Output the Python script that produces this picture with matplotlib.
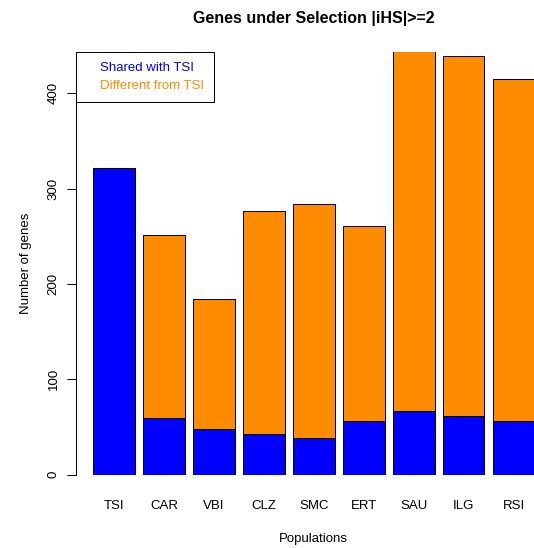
# stacked barplot of selected genes per population
import numpy as np
import matplotlib.pyplot as plt
from matplotlib.patches import Patch

plt.rcParams['font.family'] = ['Liberation Sans', 'DejaVu Sans']

# data
pops = ['TSI', 'CAR', 'VBI', 'CLZ', 'SMC', 'ERT', 'SAU', 'ILG', 'RSI']
shared = [322, 59, 48, 43, 38, 56, 67, 62, 56]          # genes shared with TSI
different = [0, 192, 136, 234, 246, 205, 377, 377, 359]  # genes not in TSI
yticks = [0, 100, 200, 300, 400]

blue = '#0000FF'
orange = '#FF8C00'
fs = 13.3  # base text size in px

# figure at 72 dpi so that sizes in points equal pixels
fig = plt.figure(figsize=(534/72, 548/72), dpi=72)
ax = fig.add_axes([75.7/534, 1-474.7/548, (552-75.7)/534, (474.7-51.7)/548])

# bars laid out like barplot(): width 1, space 0.2
x = 0.7 + 1.2*np.arange(len(pops))
ax.bar(x, shared, width=1.0, color=blue, edgecolor='black', linewidth=1)
ax.bar(x, different, width=1.0, bottom=shared, color=orange, edgecolor='black', linewidth=1)

ax.set_xlim(-0.224, 11.224)
ax.set_ylim(0, 443.6)

for s in ['top', 'right', 'bottom']:
    ax.spines[s].set_visible(False)
ax.spines['left'].set_bounds(0, 400)
ax.spines['left'].set_linewidth(1)

ax.set_yticks(yticks)
ax.set_yticklabels([str(v) for v in yticks], rotation=90, va='center')
ax.tick_params(axis='y', direction='out', length=9, width=1, labelsize=fs, pad=7)
ax.set_xticks(x)
ax.set_xticklabels(pops)
ax.tick_params(axis='x', length=0, labelsize=fs, pad=25)

ax.set_xlabel('Populations', fontsize=fs, labelpad=21.5)
ax.set_ylabel('Number of genes', fontsize=fs, labelpad=16)
ax.set_title('Genes under Selection |iHS|>=2', fontsize=16, fontweight='bold', pad=28.5)

# legend with coloured text only
handles = [Patch(visible=False), Patch(visible=False)]
leg = ax.legend(handles, ['Shared with TSI', 'Different from TSI'],
                loc='upper left', bbox_to_anchor=(0, 1), borderaxespad=0,
                labelcolor=[blue, orange], fontsize=fs, fancybox=False,
                framealpha=1, edgecolor='black', handlelength=0.6,
                handletextpad=0.5, borderpad=0.75, labelspacing=0.4)
leg.get_frame().set_linewidth(1)

fig.savefig('out.png', dpi=72)
